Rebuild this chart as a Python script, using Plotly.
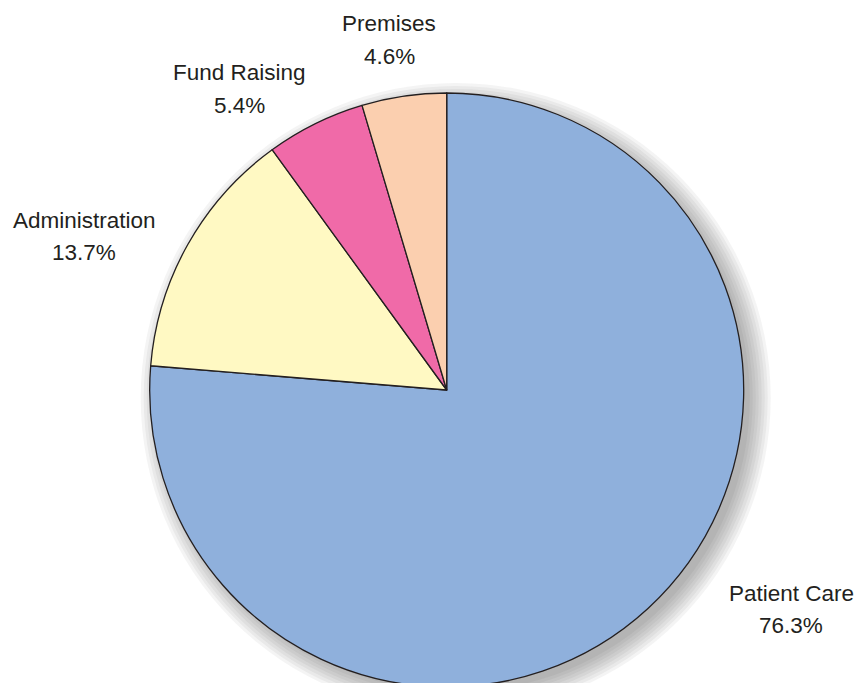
import plotly.graph_objects as go

# ---- data ----
categories = ["Patient Care", "Administration", "Fund Raising", "Premises"]
shares = [76.3, 13.7, 5.4, 4.6]
share_labels = ["76.3%", "13.7%", "5.4%", "4.6%"]

# ---- style / layout ----
W, H = 858, 720
colors = ["#8FB0DC", "#FFF9C3", "#F06AA8", "#FBCFAF"]
outline = "#231F20"
CX, CY, R = 446.7, 390.0, 297.0  # pie centre / radius in px
label_pos = [(791, 593), (84, 220), (239, 73), (389, 24)]  # first line centre, px
line_gap = 32.5
FONT = "Liberation Sans, Arial, sans-serif"
FS = 22.5


def dom(cx, cy, r):
    return dict(x=[(cx - r) / W, (cx + r) / W],
                y=[1 - (cy + r) / H, 1 - (cy - r) / H])


fig = go.Figure()

# soft drop shadow made of stacked translucent discs
for grow in range(18, -4, -3):
    fig.add_trace(go.Pie(
        values=[1], labels=["shadow"], sort=False,
        marker=dict(colors=["#404040"], line=dict(width=0)),
        opacity=0.06, textinfo="none", hoverinfo="skip", showlegend=False,
        domain=dom(CX + 9, CY + 8, R + grow),
    ))

fig.add_trace(go.Pie(
    labels=categories, values=shares, sort=False, direction="clockwise",
    rotation=0,
    marker=dict(colors=colors, line=dict(color=outline, width=1.3)),
    textinfo="none", hoverinfo="label+percent", showlegend=False,
    domain=dom(CX, CY, R),
))

annotations = []
for name, pct, (x, y) in zip(categories, share_labels, label_pos):
    for k, t in enumerate([name, pct]):
        annotations.append(dict(
            text=t, x=x / W, y=1 - (y + k * line_gap) / H,
            xref="paper", yref="paper", xanchor="center", yanchor="middle",
            showarrow=False, font=dict(family=FONT, size=FS, color=outline),
        ))

fig.update_layout(
    width=W, height=H, margin=dict(l=0, r=0, t=0, b=0),
    paper_bgcolor="white", plot_bgcolor="white",
    annotations=annotations,
)

fig.write_html("out.html", config={"displayModeBar": False},
               post_script="document.body.style.margin='0';document.body.style.overflow='hidden';")
